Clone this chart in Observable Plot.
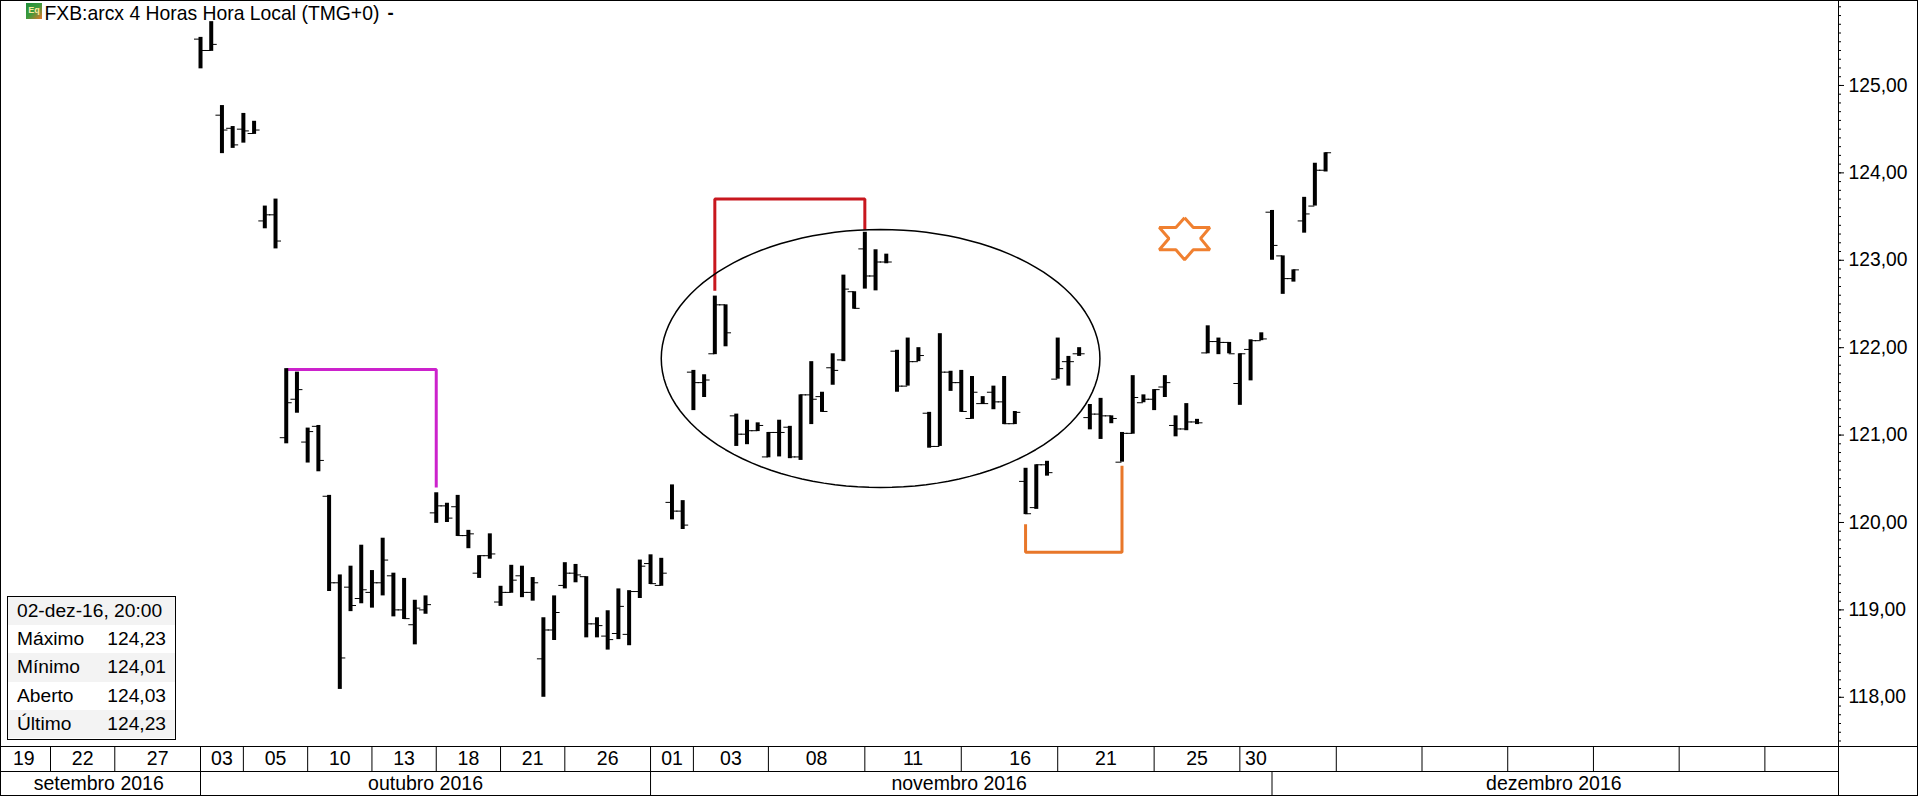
<!DOCTYPE html>
<html><head><meta charset="utf-8">
<script src="https://cdn.jsdelivr.net/npm/d3@7"></script>
<script src="https://cdn.jsdelivr.net/npm/@observablehq/plot@0.6"></script>
<style>
html,body{margin:0;padding:0;background:#fff;overflow:hidden}
#wrap{position:relative;width:1918px;height:796px;font-family:"Liberation Sans",Arial,sans-serif;color:#000}
#wrap svg{display:block}
#icon{position:absolute;left:26px;top:3px;width:16px;height:16px;background:linear-gradient(135deg,#1f8f3a 0%,#3f9a3c 50%,#e8772a 100%);color:#ffe9a0;font-size:9px;font-weight:bold;line-height:14px;text-align:center;overflow:hidden}
#info{position:absolute;left:7px;top:596px;width:169px;height:144px;box-sizing:border-box;border:1px solid #000;background:#fff;font-size:19.2px}
#info div{height:28.2px;line-height:28px;padding:0 9px;display:flex;justify-content:space-between;box-sizing:border-box}
#info div:nth-child(odd){background:#f3f3f3}
</style></head><body>
<div id="wrap"></div>
<script>
const highs=[125.55,125.73,124.77,124.53,124.68,124.59,123.62,123.70,121.76,121.72,121.08,121.11,120.31,119.40,119.50,119.74,119.45,119.82,119.42,119.36,119.11,119.16,120.34,120.22,120.31,119.91,119.62,119.87,119.27,119.51,119.50,119.37,118.91,119.16,119.54,119.52,119.38,118.91,118.99,119.24,119.22,119.57,119.63,119.59,120.43,120.25,121.74,121.69,122.59,122.49,121.24,121.17,121.14,121.03,121.17,121.10,121.46,121.84,121.49,121.93,122.83,122.64,123.32,123.12,123.07,121.97,122.11,122.00,121.26,122.16,121.73,121.74,121.67,121.44,121.56,121.67,121.27,120.62,120.66,120.70,122.11,121.90,122.00,121.35,121.42,121.22,121.03,121.68,121.46,121.52,121.68,121.22,121.36,121.18,122.25,122.11,122.06,121.93,122.09,122.17,123.57,123.05,122.89,123.72,124.11,124.23];
const lows=[125.19,125.39,124.22,124.28,124.34,124.44,123.36,123.13,120.90,121.25,120.68,120.58,119.21,118.09,118.98,119.07,119.02,119.16,118.92,118.89,118.60,118.95,119.99,120.00,119.84,119.70,119.36,119.58,119.04,119.19,119.14,119.10,118.00,118.65,119.24,119.31,118.68,118.68,118.54,118.66,118.59,119.13,119.29,119.27,120.03,119.92,121.28,121.43,121.92,122.01,120.87,120.89,121.04,120.74,120.75,120.73,120.71,121.12,121.26,121.57,121.84,122.44,122.67,122.65,122.96,121.49,121.56,121.84,120.85,120.87,121.50,121.26,121.18,121.35,121.29,121.12,121.12,120.09,120.15,120.53,121.64,121.56,121.90,121.06,120.95,121.13,120.69,121.01,121.37,121.28,121.43,120.98,121.05,121.12,121.93,121.92,121.93,121.34,121.62,122.08,123.00,122.61,122.75,123.31,123.62,124.01];
const opens=[125.53,125.40,124.66,124.51,124.50,124.45,123.45,123.52,120.97,121.41,120.92,121.10,120.30,119.31,119.26,119.13,119.20,119.31,119.39,119.00,118.83,119.00,120.11,120.19,120.18,119.85,119.42,119.62,119.09,119.20,119.39,119.20,118.44,118.77,119.28,119.42,119.38,118.84,118.70,118.73,118.72,119.21,119.53,119.28,120.23,120.13,121.72,121.60,121.93,122.49,121.22,121.01,121.05,120.75,121.03,121.09,120.75,121.46,121.44,121.77,121.86,122.64,123.13,122.82,122.98,121.96,121.56,121.84,121.25,120.87,121.72,121.60,121.19,121.36,121.49,121.38,121.13,120.47,120.17,120.66,121.64,121.84,121.93,121.20,121.24,121.22,120.69,121.02,121.37,121.41,121.55,121.11,121.07,121.15,121.94,122.07,122.06,121.59,121.98,122.08,123.55,123.05,122.79,123.45,123.62,124.03];
const closes=[125.40,125.47,124.49,124.32,124.48,124.49,123.52,123.22,121.37,121.52,121.04,120.71,119.31,118.45,119.05,119.23,119.31,119.57,119.00,118.90,119.02,119.06,120.19,120.05,119.85,119.87,119.62,119.64,119.20,119.34,119.20,119.31,118.77,118.97,119.42,119.40,118.84,118.82,118.66,119.04,119.21,119.50,119.30,119.42,120.13,119.97,121.60,121.63,122.49,122.17,121.01,121.05,121.11,121.03,121.03,120.75,121.46,121.41,121.27,121.74,122.67,122.45,122.82,122.98,122.98,121.56,121.84,121.91,120.87,121.72,121.60,121.27,121.49,121.36,121.38,121.13,121.26,120.10,120.66,120.57,121.76,121.84,121.93,121.24,121.22,121.19,121.02,121.43,121.41,121.52,121.60,121.07,121.15,121.14,122.07,122.06,121.93,121.93,122.08,122.10,123.17,122.79,122.89,123.53,124.03,124.23];

const priceTicks=[118,119,120,121,122,123,124,125];
const minorTicks=d3.range(1175,1260).map(d=>d/10);

const dateLabels=["19","22","27","03","05","10","13","18","21","26","01","03","08","11","16","21","25","30"];
const dateLabelPos=[-16.5,-11,-4,2,7,13,19,25,31,38,44,49.5,57.5,66.5,76.5,84.5,93,98.5];
const dateSeps=[-14,-8,0,4,10,16,22,28,34,42,46,53,62,71,80,89,97,106,114,122,130,138,146];
const monthLabels=["setembro 2016","outubro 2016","novembro 2016","dezembro 2016"];
const monthLabelPos=[-9.5,21,70.8,126.3];
const monthSeps=[0,42,100];

const magentaX=[8,22,22], magentaY=[121.75,121.75,120.40];
const redX=[48,48,62,62], redY=[122.65,123.70,123.70,123.35];
const orangeX=[77,77,86,86], orangeY=[119.98,119.66,119.66,120.65];
const starX=[91.84,92.65,94.2,93.33,94.2,92.65,91.84,91.03,89.48,90.38,89.48,91.03,91.84];
const starY=[123.486,123.375,123.375,123.25,123.12,123.12,123.005,123.12,123.12,123.25,123.375,123.375,123.486];
const ellipseCx=63.47, ellipseCy=121.876, ellipseRx=20.47, ellipseRy=1.476;
const ellipseAngles=d3.range(0,361,3);

const infoRows=[["02-dez-16, 20:00",""],["Máximo","124,23"],["Mínimo","124,01"],["Aberto","124,03"],["Último","124,23"]];

const bars=highs.map((h,i)=>({i,high:h,low:lows[i],open:opens[i],close:closes[i]}));
const fmt=d=>d.toFixed(2).replace(".",",");
const path=(xs,ys)=>xs.map((x,k)=>({x,y:ys[k]}));
const barLine=(xs,ys,stroke,w)=>Plot.line(path(xs,ys),{x:"x",y:"y",stroke,strokeWidth:w,strokeLinejoin:"miter",strokeLinecap:"butt"});

const chart=Plot.plot({
  width:1918,height:796,marginLeft:0,marginRight:80,marginTop:0,marginBottom:50,
  style:{fontFamily:'"Liberation Sans",Arial,sans-serif',background:"#fff",color:"#000"},
  x:{type:"linear",domain:[-18.667,152.87],axis:null},
  y:{type:"linear",domain:[117.437,125.972],axis:null},
  marks:[
    Plot.frame({stroke:"#000"}),
    Plot.frame({stroke:"#000",insetRight:-79,insetBottom:-49}),
    Plot.frame({anchor:"bottom",stroke:"#000",insetRight:-79}),
    Plot.frame({anchor:"bottom",stroke:"#000",dy:25}),
    Plot.frame({anchor:"right",stroke:"#000",insetBottom:-49}),
    Plot.ruleX(dateSeps,{x:d=>d,stroke:"#000",insetTop:746,insetBottom:-25}),
    Plot.ruleX(monthSeps,{x:d=>d,stroke:"#000",insetTop:771,insetBottom:-49}),
    Plot.text(dateLabels,{x:(d,k)=>dateLabelPos[k],text:d=>d,frameAnchor:"bottom",lineAnchor:"middle",dy:12,fontSize:19.5,fill:"#000"}),
    Plot.text(monthLabels,{x:(d,k)=>monthLabelPos[k],text:d=>d,frameAnchor:"bottom",lineAnchor:"middle",dy:37,fontSize:19.5,fill:"#000"}),
    Plot.axisY(minorTicks,{anchor:"right",tickSize:2,tickFormat:()=>"",label:null,stroke:"#000"}),
    Plot.axisY(priceTicks,{anchor:"right",tickSize:5,tickPadding:5,tickFormat:fmt,label:null,fontSize:19.3,stroke:"#000",fill:"#000"}),
    barLine(magentaX,magentaY,"#cc22cc",3),
    barLine(redX,redY,"#c8171e",3),
    barLine(orangeX,orangeY,"#e8772a",3),
    barLine(starX,starY,"#f08030",3),
    Plot.line(ellipseAngles,{x:a=>ellipseCx+ellipseRx*Math.cos(a*Math.PI/180),y:a=>ellipseCy+ellipseRy*Math.sin(a*Math.PI/180),stroke:"#000",strokeWidth:1.5,curve:"linear"}),
    Plot.ruleX(bars,{x:"i",y1:"low",y2:"high",stroke:"#000",strokeWidth:4}),
    Plot.ruleY(bars,{y:"open",x1:d=>d.i,x2:d=>d.i,insetLeft:-6,stroke:"#000",strokeWidth:1}),
    Plot.ruleY(bars,{y:"close",x1:d=>d.i,x2:d=>d.i,insetRight:-6,stroke:"#000",strokeWidth:1}),
    Plot.text(["FXB:arcx 4 Horas Hora Local (TMG+0)"],{text:d=>d,frameAnchor:"top-left",textAnchor:"start",lineAnchor:"middle",dx:44,dy:13,fontSize:19.35,fill:"#000"}),
    Plot.text(["-"],{text:d=>d,frameAnchor:"top-left",textAnchor:"start",lineAnchor:"middle",dx:387,dy:13,fontSize:18.5,fontWeight:"bold",fill:"#000"})
  ]
});
const wrap=document.getElementById("wrap");
wrap.appendChild(chart);
const icon=document.createElement("div");icon.id="icon";icon.textContent="Eq";wrap.appendChild(icon);
const info=document.createElement("div");info.id="info";
for(const [a,b] of infoRows){const r=document.createElement("div");const s1=document.createElement("span");s1.textContent=a;const s2=document.createElement("span");s2.textContent=b;r.append(s1,s2);info.appendChild(r);}
wrap.appendChild(info);
</script>
</body></html>
